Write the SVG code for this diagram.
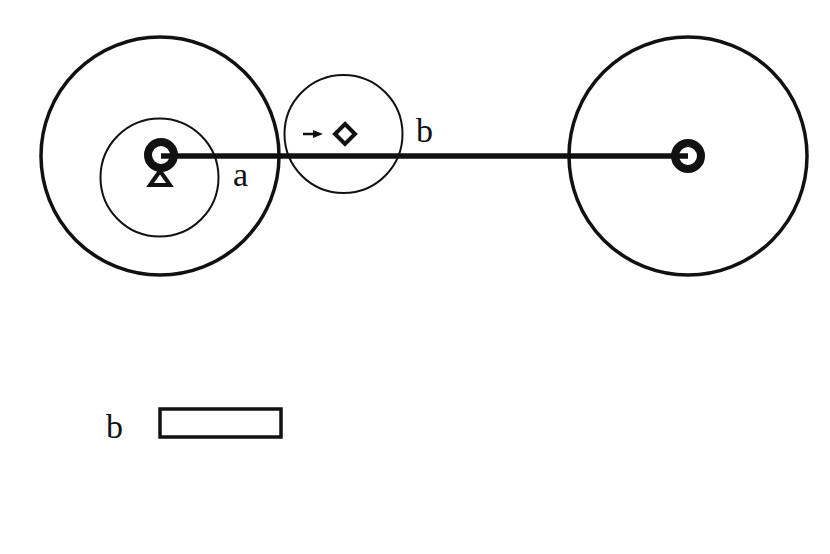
<svg xmlns="http://www.w3.org/2000/svg" width="830" height="554" viewBox="0 0 830 554">
<style>
.thin{fill:none;stroke:#111;stroke-width:2}
.big{fill:none;stroke:#111;stroke-width:3.5}
.ring{fill:none;stroke:#111;stroke-width:8}
.lbl{font-family:"Liberation Serif",serif;font-size:34px;fill:#111}
</style>
<rect width="830" height="554" fill="#fff"/>
<g id="connectors">
<line x1="161" y1="156" x2="688" y2="156" stroke="#111" stroke-width="5.5"/>
</g>
<g id="wheelLeft"><circle class="big" cx="160" cy="156" r="119"/></g>
<g id="wheelA"><circle class="thin" cx="159.5" cy="177.5" r="59"/><text class="lbl" x="233" y="186">a</text></g>
<g id="wheelB"><circle class="thin" cx="343.5" cy="134" r="59"/><text class="lbl" x="416" y="142">b</text>
<path d="M345 124 L355 134 L345 144 L335 134 Z" fill="none" stroke="#111" stroke-width="4"/>
<line x1="303" y1="134" x2="315" y2="134" stroke="#111" stroke-width="2.5"/>
<path d="M313 130 L323 134 L313 138 Z" fill="#111"/></g>
<g id="pivotLeft"><circle class="ring" cx="161" cy="155" r="13"/>
<path d="M160 171 L170 185 L150 185 Z" fill="none" stroke="#111" stroke-width="4"/></g>
<g id="wheelRight"><circle class="big" cx="688" cy="156" r="119"/><circle class="ring" cx="688" cy="156" r="13"/></g>
<g id="legend"><text class="lbl" x="106" y="438">b</text><rect x="160" y="409" width="121" height="28" fill="none" stroke="#111" stroke-width="3.5"/></g>
</svg>
